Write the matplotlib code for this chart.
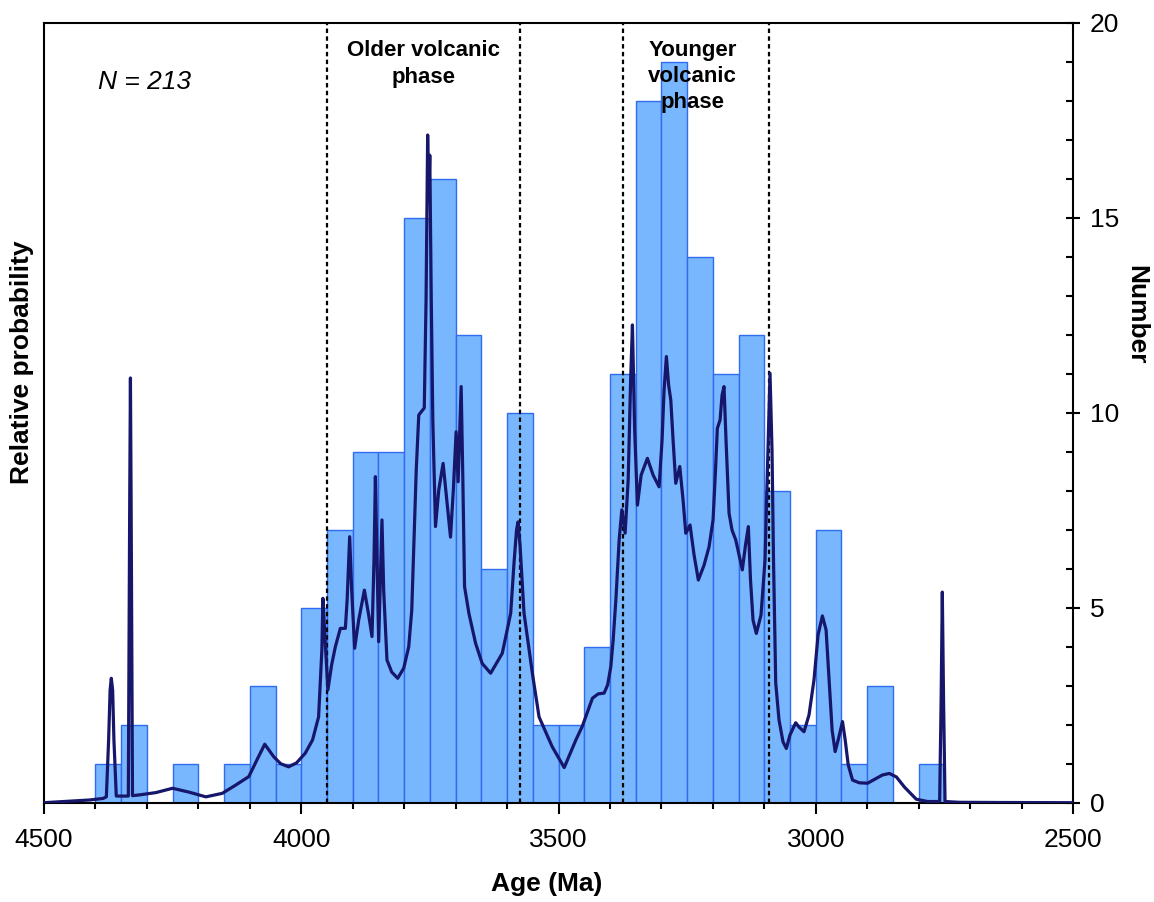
import numpy as np
import matplotlib
matplotlib.use("Agg")
import matplotlib.pyplot as plt
from matplotlib.ticker import MultipleLocator

plt.rcParams['font.family'] = ['Liberation Sans', 'DejaVu Sans']

# ---------------- data ----------------
# histogram: older edge of each 50 Ma bin and the number of analyses in it
bin_width = 50
bin_from = np.arange(4400, 2750, -bin_width)
counts = [1, 2, 0, 1, 0, 1, 3, 1,
          5, 7, 9, 9, 15, 16, 12, 6,
          10, 2, 2, 4, 11, 18, 19, 14,
          11, 12, 8, 2, 7, 1, 3, 0,
          1]

# relative probability curve (arbitrary units)
prob_age = [4500, 4463, 4411, 4385, 4378.8, 4374.4, 4371.5, 4369.2, 4366.6, 4364.1, 4359.5,
            4336.1, 4333.4, 4332.0, 4330.7, 4328.0, 4314.4, 4282.2, 4250.1, 4217.8, 4185.5,
            4153.5, 4127.6, 4101.9, 4086.4, 4071.0, 4053.6, 4040.0, 4024.6, 4009.2, 3992.2,
            3978.0, 3966.3, 3959.9, 3957.9, 3953.6, 3948.2, 3941.0, 3933.7, 3924.0, 3914.3,
            3910.8, 3905.9, 3902.0, 3896.2, 3888.4, 3877.3, 3868.9, 3862.5, 3858.6, 3855.9,
            3852.8, 3849.5, 3846.2, 3843.1, 3839.8, 3833.4, 3824.2, 3812.5, 3800.8, 3791.1,
            3785.2, 3781.3, 3776.5, 3771.6, 3766.4, 3760.9, 3757.4, 3754.3, 3752.1, 3750.2,
            3747.3, 3744.3, 3739.1, 3732.7, 3724.3, 3717.1, 3709.9, 3704.4, 3699.0, 3695.1,
            3689.2, 3685.9, 3682.6, 3674.2, 3661.2, 3648.3, 3631.9, 3609.3, 3592.9, 3586.5,
            3581.6, 3578.7, 3574.8, 3567.0, 3550.8, 3537.8, 3512.4, 3488.9, 3466.2, 3454.0,
            3434.0, 3422.9, 3411.3, 3404.5, 3398.3, 3393.8, 3388.5, 3382.1, 3376.9, 3370.5,
            3364.6, 3359.8, 3356.3, 3352.0, 3346.6, 3339.4, 3327.2, 3316.1, 3304.5, 3298.7,
            3294.8, 3290.3, 3286.0, 3281.8, 3277.3, 3272.1, 3264.3, 3257.9, 3252.6, 3244.3,
            3236.5, 3228.2, 3217.1, 3207.4, 3199.6, 3194.8, 3191.3, 3186.0, 3182.1, 3178.3,
            3174.4, 3168.5, 3162.7, 3155.5, 3149.1, 3142.7, 3136.5, 3131.0, 3126.8, 3121.9,
            3115.5, 3106.4, 3098.6, 3092.8, 3088.9, 3085.0, 3082.1, 3077.8, 3071.4, 3063.6,
            3057.2, 3050.0, 3039.0, 3032.6, 3022.8, 3013.1, 3003.4, 2995.5, 2987.1, 2979.9,
            2974.0, 2968.2, 2962.3, 2956.4, 2948.0, 2942.8, 2936.9, 2928.5, 2915.4, 2899.2,
            2884.2, 2870.5, 2856.9, 2843.2, 2827.6, 2804.7, 2782.7, 2759.2, 2756.3, 2754.0,
            2751.6, 2748.7, 2720.3, 2642.0, 2500]
prob_val = [0.0, 0.03, 0.07, 0.11, 0.15, 1.61, 2.89, 3.19, 2.89, 1.61, 0.17,
            0.17, 7.76, 10.89, 7.76, 0.18, 0.20, 0.26, 0.37, 0.27, 0.15,
            0.24, 0.45, 0.67, 1.09, 1.50, 1.18, 1.00, 0.92, 1.02, 1.27,
            1.61, 2.20, 3.92, 5.24, 4.17, 2.89, 3.53, 4.00, 4.47, 4.47,
            5.20, 6.82, 5.45, 3.96, 4.68, 5.45, 4.81, 4.26, 6.22, 8.36,
            6.22, 4.13, 5.70, 7.25, 5.45, 3.66, 3.35, 3.19, 3.45, 4.00,
            4.94, 6.56, 8.53, 9.94, 10.03, 10.12, 12.90, 17.12, 15.45, 16.60,
            12.90, 9.81, 7.08, 8.02, 8.70, 7.76, 6.81, 8.02, 9.51, 8.23,
            10.67, 8.27, 5.54, 4.86, 4.09, 3.57, 3.32, 3.83, 4.86, 6.14,
            6.99, 7.20, 6.61, 4.86, 3.32, 2.20, 1.44, 0.90, 1.61, 1.95,
            2.68, 2.79, 2.81, 3.02, 3.49, 4.17, 5.20, 6.74, 7.51, 6.91,
            8.27, 10.84, 12.25, 9.56, 7.63, 8.40, 8.83, 8.40, 8.10, 9.30,
            10.58, 11.44, 10.71, 10.33, 9.30, 8.19, 8.62, 7.76, 6.91, 7.12,
            6.35, 5.71, 6.09, 6.56, 7.25, 8.53, 9.60, 9.81, 10.45, 10.67,
            9.30, 7.42, 6.99, 6.74, 6.35, 5.97, 6.61, 7.08, 5.71, 4.68,
            4.34, 4.81, 6.22, 9.04, 11.01, 9.04, 6.22, 3.07, 2.12, 1.56,
            1.39, 1.74, 2.05, 1.94, 1.82, 2.25, 3.15, 4.30, 4.79, 4.43,
            3.15, 1.86, 1.31, 1.61, 2.08, 1.61, 0.97, 0.58, 0.51, 0.50,
            0.61, 0.71, 0.75, 0.66, 0.40, 0.09, 0.03, 0.03, 2.63, 5.40,
            2.63, 0.03, 0.01, 0.005, 0.0]

phase_bounds = [3950, 3575, 3375, 3090]
phase_labels = ["Older volcanic\nphase", "Younger\nvolcanic\nphase"]
phase_label_ages = [3762, 3240]
n_label = "N = 213"

# ---------------- figure ----------------
W, H = 1154, 902
fig = plt.figure(figsize=(W / 100, H / 100), dpi=100)
ax = fig.add_axes([44 / W, (H - 802.7) / H, (1073 - 44) / W, (802.7 - 22.7) / H])

bar_fill = '#78b6fe'
bar_edge = '#2f6cf2'
curve_col = '#16166b'

centers = bin_from - bin_width / 2
mask = np.array(counts) > 0
ax.bar(centers[mask], np.array(counts)[mask], width=bin_width, color=bar_fill,
       edgecolor=bar_edge, linewidth=1.0, zorder=2)

ax.set_xlim(4500, 2500)
ax.set_ylim(0, 20)

# probability curve on a twin axis (no ticks)
ax2 = ax.twinx()
ax2.set_ylim(0, 20)
ax2.set_yticks([])
for sp in ax2.spines.values():
    sp.set_visible(False)

# axes styling (after twinx, which moves the main y ticks to the left)
for sp in ax.spines.values():
    sp.set_linewidth(1.5)
    sp.set_color('black')
ax.yaxis.tick_right()
ax.yaxis.set_major_locator(MultipleLocator(5))
ax.yaxis.set_minor_locator(MultipleLocator(1))
ax.xaxis.set_major_locator(MultipleLocator(500))
ax.xaxis.set_minor_locator(MultipleLocator(100))
ax.tick_params(axis='y', which='major', direction='inout', length=10, width=1.5,
               labelsize=19, pad=7, right=True, left=False,
               labelright=True, labelleft=False)
ax.tick_params(axis='y', which='minor', direction='in', length=5, width=1.5,
               right=True, left=False)
ax.tick_params(axis='x', which='major', direction='out', length=8, width=1.5,
               labelsize=19, pad=10)
ax.tick_params(axis='x', which='minor', direction='out', length=4, width=1.5)

for b in phase_bounds:
    ax2.axvline(b, color='black', linestyle=(0, (2, 1.5)), linewidth=1.6, zorder=2)

ax2.plot(prob_age, prob_val, color=curve_col, linewidth=2.3, zorder=3,
         solid_joinstyle='round', solid_capstyle='round')

# annotations
ax2.text(phase_label_ages[0], 19.55, phase_labels[0], ha='center', va='top',
         fontsize=16, fontweight='bold', linespacing=1.35)
ax2.text(phase_label_ages[1], 19.55, phase_labels[1], ha='center', va='top',
         fontsize=16, fontweight='bold', linespacing=1.3)
ax2.text(4396, 18.48, n_label, ha='left', va='center', fontsize=19, style='italic')

fig.text(547 / W, 1 - 884 / H, "Age (Ma)", ha='center', va='center',
         fontsize=19, fontweight='bold')
fig.text(22 / W, 1 - 362 / H, "Relative probability", ha='center', va='center',
         rotation=90, fontsize=19, fontweight='bold')
fig.text(1136 / W, 1 - 315 / H, "Number", ha='center', va='center',
         rotation=270, fontsize=19, fontweight='bold')

fig.savefig("out.png", dpi=100)
